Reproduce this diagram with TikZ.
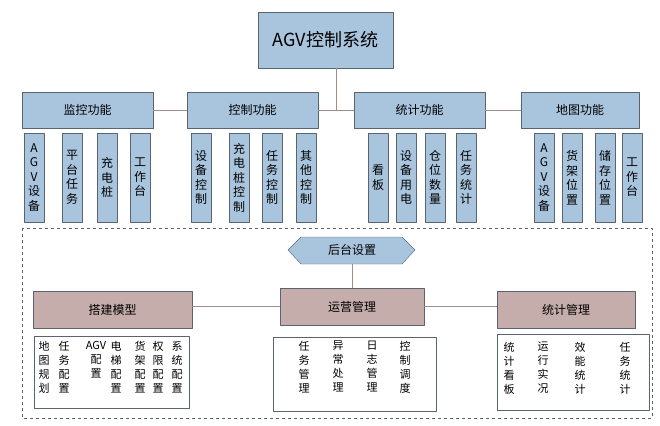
\documentclass[tikz,border=0pt]{standalone}
\usepackage{fontspec}
\setmainfont{Noto Sans CJK SC}
\usetikzlibrary{shapes.geometric}
\definecolor{boxblue}{HTML}{A9C5DE}
\definecolor{boxbrown}{HTML}{C4ADAA}
\definecolor{edgegray}{HTML}{5A6470}
\definecolor{linkbrown}{HTML}{A08C88}
\begin{document}
\begin{tikzpicture}[
        x=1pt, y=-1pt,
        line join=round,
        top/.style = {draw=edgegray, fill=boxblue, minimum width=135pt, minimum height=56pt, font=\fontsize{18}{20}\selectfont},
        func/.style = {draw=edgegray, fill=boxblue, minimum width=131pt, minimum height=36pt, font=\fontsize{12}{14}\selectfont},
        leaf/.style = {draw=edgegray, fill=boxblue, minimum width=20pt, minimum height=89pt, align=center, inner sep=1pt, font=\fontsize{12}{14.5}\selectfont},
        mgmt/.style = {draw=edgegray, fill=boxbrown, minimum height=37pt, font=\fontsize{12}{14}\selectfont},
        list/.style = {draw=edgegray, fill=white},
        col/.style = {align=center, inner sep=0pt, font=\fontsize{11}{14}\selectfont},
        link/.style = {draw=linkbrown, line width=0.8pt}
    ]
    \useasboundingbox (0,0) rectangle (660,425);

    % top level
    \node[top] (sys) at (325.5,40) {AGV控制系统};
    \node[func] (mon) at (87.5,110) {监控功能};
    \node[func] (ctl) at (252.5,110) {控制功能};
    \node[func] (sta) at (419.5,110) {统计功能};
    \node[func, minimum width=118pt] (map) at (580,110) {地图功能};
    \coordinate (hub) at (336,110);
    \draw[link] (sys.south -| hub) -- (hub);
    \draw[link] (mon) -- (ctl) (ctl) -- (sta) (sta) -- (map);

    % leaves
    \foreach \x/\t in {34/A\\G\\V\\设\\备, 72/平\\台\\任\\务, 107/充\\电\\桩, 140/工\\作\\台,
                       201/设\\备\\控\\制, 239/充\\电\\桩\\控\\制, 272/任\\务\\控\\制, 306/其\\他\\控\\制,
                       378/看\\板, 406/设\\备\\用\\电, 435/仓\\位\\数\\量, 466/任\\务\\统\\计,
                       544/A\\G\\V\\设\\备, 572/货\\架\\位\\置, 605/储\\存\\位\\置, 632/工\\作\\台}
        \node[leaf] at (\x,177.5) {\t};

    % backend
    \draw[dashed, edgegray] (22,228) rectangle (652,418);
    \node[draw=edgegray, fill=boxblue, regular polygon, regular polygon sides=6, shape border rotate=0,
          minimum width=0pt, inner sep=0pt, font=\fontsize{12}{14}\selectfont] (bg) at (352,250) {};
    \draw[edgegray, fill=boxblue] (288,250) -- (301,237) -- (402,237) -- (415,250) -- (402,264) -- (301,264) -- cycle;
    \node[font=\fontsize{12}{14}\selectfont] (set) at (352,250) {后台设置};
    \node[mgmt, minimum width=144pt] (ops) at (352,306.5) {运营管理};
    \node[mgmt, minimum width=159pt] (bld) at (112.5,309.5) {搭建模型};
    \node[mgmt, minimum width=138pt] (stm) at (566,309.5) {统计管理};
    \coordinate (setb) at (352,264);
    \draw[link] (setb) -- (ops);
    \draw[link] (bld.east |- ops) -- (ops) -- (stm.west |- ops);

    % lists
    \node[list, minimum width=155pt, minimum height=72pt] (lb) at (111.5,372) {};
    \node[list, minimum width=163pt, minimum height=74pt] (lo) at (354.5,374) {};
    \node[list, minimum width=152pt, minimum height=76pt] (ls) at (573,372) {};

    \foreach \x/\t in {44/地\\图\\规\\划, 64/任\\务\\配\\置, 96/AGV\\配\\置\\{}, 116/电\\梯\\配\\置,
                       140/货\\架\\配\\置, 158/权\\限\\配\\置, 177/系\\统\\配\\置}
        \node[col, anchor=north] at (\x,341) {\t};
    \foreach \x/\t in {304/任\\务\\管\\理, 338/异\\常\\处\\理, 372/日\\志\\管\\理, 405/控\\制\\调\\度}
        \node[col, anchor=north] at (\x,341) {\t};
    \foreach \x/\t in {509/统\\计\\看\\板, 543/运\\行\\实\\况, 580/效\\能\\统\\计, 625/任\\务\\统\\计}
        \node[col, anchor=north] at (\x,342) {\t};
\end{tikzpicture}
\end{document}
